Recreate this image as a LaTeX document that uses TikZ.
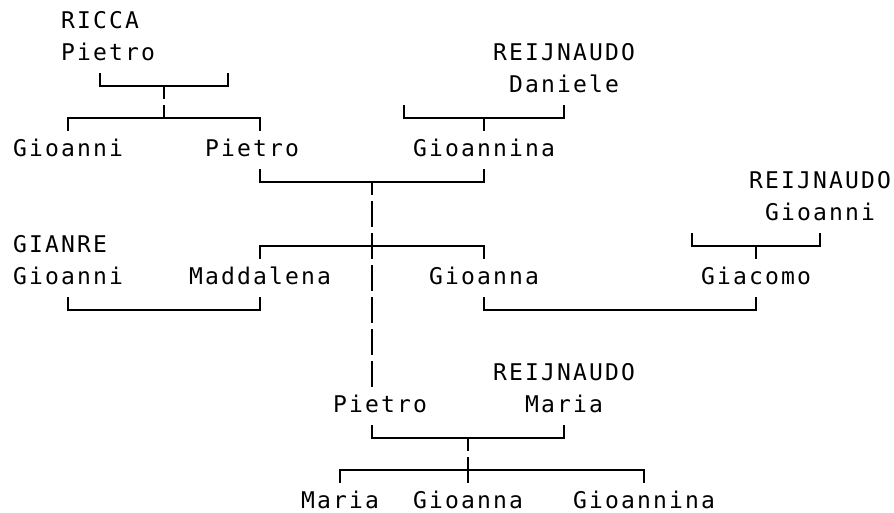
\documentclass[tikz,border=0pt]{standalone}
\usepackage{fontspec}
\newfontfamily\mfont{DejaVu Sans Mono}
\newlength{\cellw}\setlength{\cellw}{16pt}
\makeatletter
\def\monotext#1{\mt@loop#1\relax}
\def\mt@loop#1{\ifx#1\relax\else\makebox[\cellw][c]{#1}\expandafter\mt@loop\fi}
\makeatother
\begin{document}
\begin{tikzpicture}[x=1pt,y=-1pt,
  lbl/.style={font=\mfont\fontsize{23pt}{23pt}\selectfont, anchor=base west, inner sep=0pt, outer sep=0pt},
  conn/.style={line width=1.9pt, line cap=butt},
  vbar/.style={conn, dash pattern=on 26pt off 6pt, dash phase=13pt}]
\useasboundingbox (0,0) rectangle (894,512);
% names
\node[lbl] (ricca)   at (60,28)  {\monotext{RICCA}};
\node[lbl] (pietroA) at (60,60)  {\monotext{Pietro}};
\node[lbl] (reijA)   at (492,60) {\monotext{REIJNAUDO}};
\node[lbl] (daniele) at (508,92) {\monotext{Daniele}};
\node[lbl] (gioanniA) at (12,156) {\monotext{Gioanni}};
\node[lbl] (pietroB) at (204,156) {\monotext{Pietro}};
\node[lbl] (gioanninaA) at (412,156) {\monotext{Gioannina}};
\node[lbl] (reijB)   at (748,188) {\monotext{REIJNAUDO}};
\node[lbl] (gioanniB) at (764,220) {\monotext{Gioanni}};
\node[lbl] (gianre)  at (12,252) {\monotext{GIANRE}};
\node[lbl] (gioanniC) at (12,284) {\monotext{Gioanni}};
\node[lbl] (maddalena) at (188,284) {\monotext{Maddalena}};
\node[lbl] (gioannaA) at (428,284) {\monotext{Gioanna}};
\node[lbl] (giacomo) at (700,284) {\monotext{Giacomo}};
\node[lbl] (reijC)   at (492,380) {\monotext{REIJNAUDO}};
\node[lbl] (pietroC) at (332,412) {\monotext{Pietro}};
\node[lbl] (mariaA)  at (524,412) {\monotext{Maria}};
\node[lbl] (mariaB)  at (300,508) {\monotext{Maria}};
\node[lbl] (gioannaB) at (412,508) {\monotext{Gioanna}};
\node[lbl] (gioanninaB) at (572,508) {\monotext{Gioannina}};
% junctions
\coordinate (a2l) at (100,86);  \coordinate (a2m) at (164,86);  \coordinate (a2r) at (228,86);
\coordinate (a3l) at (68,118);  \coordinate (a3m) at (164,118); \coordinate (a3r) at (260,118);
\coordinate (b3l) at (404,118); \coordinate (b3m) at (484,118); \coordinate (b3r) at (564,118);
\coordinate (c5l) at (260,182); \coordinate (c5m) at (372,182); \coordinate (c5r) at (484,182);
\coordinate (d7l) at (260,246); \coordinate (d7r) at (484,246);
\coordinate (e7l) at (692,246); \coordinate (e7m) at (756,246); \coordinate (e7r) at (820,246);
\coordinate (f9l) at (68,310);  \coordinate (f9r) at (260,310);
\coordinate (g9l) at (484,310); \coordinate (g9r) at (756,310);
\coordinate (trunkEnd) at (372,387);
\coordinate (h13l) at (372,438); \coordinate (h13m) at (468,438); \coordinate (h13r) at (564,438);
\coordinate (i14l) at (340,470); \coordinate (i14m) at (468,470); \coordinate (i14r) at (644,470);
\coordinate (i14end) at (468,483);
% RICCA Pietro family
\draw[conn] (a2l) ++(0,-13) -- (a2l) -- (a2r) -- ++(0,-13);
\draw[vbar] (a2m) -- (a3m);
\draw[conn] (a3l) ++(0,13) -- (a3l) -- (a3r) -- ++(0,13);
% REIJNAUDO Daniele
\draw[conn] (b3l) ++(0,-13) -- (b3l) -- (b3r) -- ++(0,-13);
\draw[conn] (b3m) -- ++(0,13);
% Pietro + Gioannina
\draw[conn] (c5l) ++(0,-13) -- (c5l) -- (c5r) -- ++(0,-13);
\draw[vbar] (c5m) -- (trunkEnd);
\draw[conn] (d7l) ++(0,13) -- (d7l) -- (d7r) -- ++(0,13);
% REIJNAUDO Gioanni
\draw[conn] (e7l) ++(0,-13) -- (e7l) -- (e7r) -- ++(0,-13);
\draw[conn] (e7m) -- ++(0,13);
% marriages
\draw[conn] (f9l) ++(0,-13) -- (f9l) -- (f9r) -- ++(0,-13);
\draw[conn] (g9l) ++(0,-13) -- (g9l) -- (g9r) -- ++(0,-13);
% Pietro + Maria
\draw[conn] (h13l) ++(0,-13) -- (h13l) -- (h13r) -- ++(0,-13);
\draw[vbar] (h13m) -- (i14end);
\draw[conn] (i14l) ++(0,13) -- (i14l) -- (i14r) -- ++(0,13);
\end{tikzpicture}
\end{document}
